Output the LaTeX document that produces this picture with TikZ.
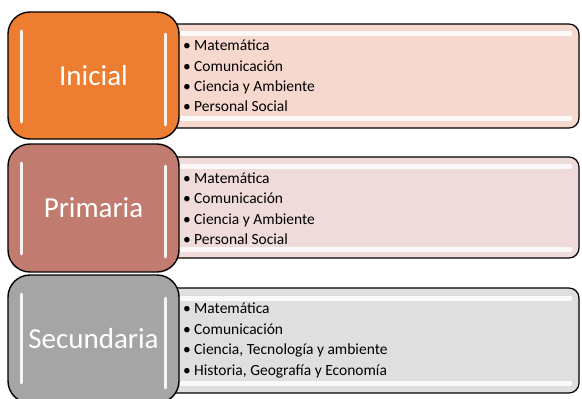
\documentclass[tikz,border=0pt]{standalone}
\usepackage{fontspec}
\setmainfont{Carlito}
\definecolor{orangeA}{HTML}{ED7D31}
\definecolor{orangeL}{HTML}{F7D8CE}
\definecolor{roseA}{HTML}{C27C6F}
\definecolor{roseL}{HTML}{EFDCDA}
\definecolor{greyA}{HTML}{A5A5A5}
\definecolor{greyL}{HTML}{DFDFDF}
\tikzset{
  leftbox/.style={draw=black, line width=1.4pt, rounded corners=22pt, inner sep=0pt,
    minimum width=171pt, minimum height=127pt, text=white, font=\fontsize{29}{32}\selectfont},
  rightbox/.style={draw=black, line width=1.2pt, rounded corners=10pt, inner sep=0pt,
    minimum width=429pt, minimum height=104pt},
  glow/.style={white, line width=3pt, line cap=round, opacity=0.9},
  hglow/.style={white, line width=5pt, line cap=round, opacity=0.85},
  listtext/.style={anchor=west, align=left, inner sep=0pt, text=black,
    font=\fontsize{15.5}{20.4}\selectfont}
}
\newcommand{\itm}[1]{\makebox[11pt][l]{\textbullet}#1}
\begin{document}
\begin{tikzpicture}[x=1pt,y=-1pt]
\useasboundingbox (0,0) rectangle (582,399);
\clip (0,0) rectangle (582,399);
% ---- Inicial
\node[rightbox, fill=orangeL] (R1) at (364.5,76) {};
\draw[hglow] (182,33) -- (570,33);
\draw[hglow] (182,118) -- (570,118);
\node[leftbox, fill=orangeA] (L1) at (93.5,75.5) {Inicial};
\draw[glow] (21,31) -- (21,122);
\draw[glow] (165,34) -- (165,125);
\node[listtext] (T1) at (183,76) {\itm{Matemática}\\\itm{Comunicación}\\\itm{Ciencia y Ambiente}\\\itm{Personal Social}};
% ---- Primaria
\node[rightbox, fill=roseL, minimum height=101pt] (R2) at (364.5,207.5) {};
\draw[hglow] (182,166) -- (570,166);
\draw[hglow] (182,249) -- (570,249);
\node[leftbox, fill=roseA, minimum height=128pt] (L2) at (93.5,208) {Primaria};
\draw[glow] (21,163) -- (21,254);
\draw[glow] (165,166) -- (165,257);
\node[listtext] (T2) at (183,208.5) {\itm{Matemática}\\\itm{Comunicación}\\\itm{Ciencia y Ambiente}\\\itm{Personal Social}};
% ---- Secundaria
\node[rightbox, fill=greyL, minimum height=105pt] (R3) at (364.5,340.5) {};
\draw[hglow] (182,298) -- (570,298);
\draw[hglow] (182,383) -- (570,383);
\node[leftbox, fill=greyA, minimum height=128pt] (L3) at (93.5,339) {Secundaria};
\draw[glow] (21,294) -- (21,383);
\draw[glow] (165,298) -- (165,388);
\node[listtext] (T3) at (183,340.5) {\itm{Matemática}\\\itm{Comunicación}\\\itm{Ciencia, Tecnología y ambiente}\\\itm{Historia, Geografía y Economía}};
\end{tikzpicture}
\end{document}
